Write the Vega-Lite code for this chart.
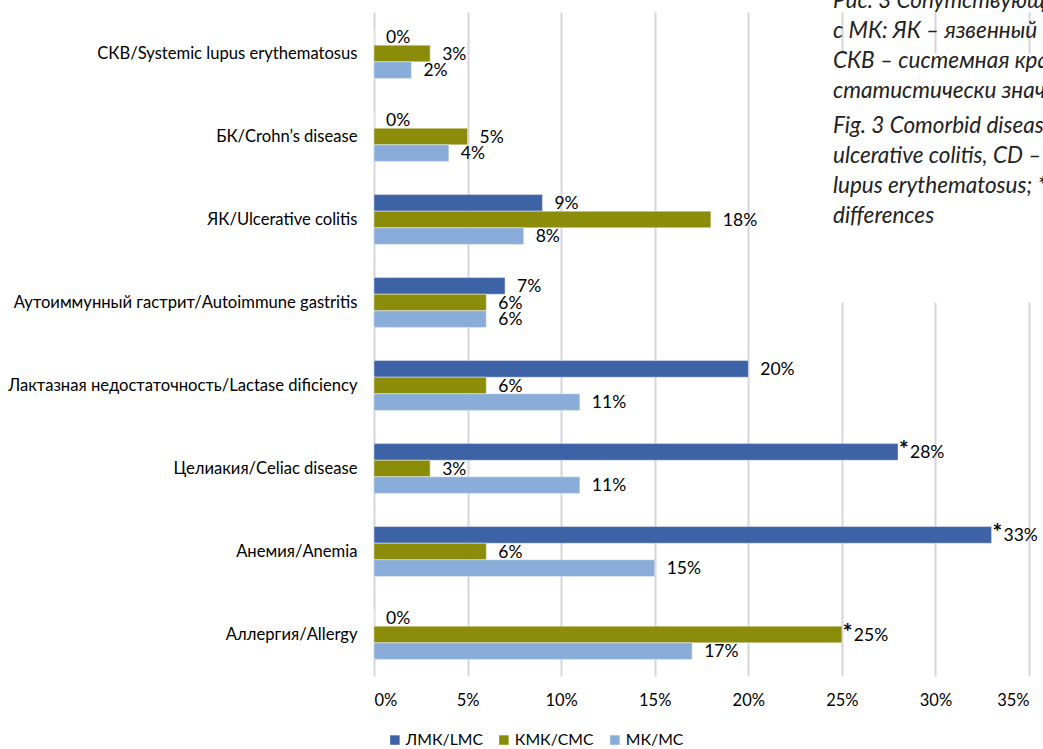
{
  "$schema": "https://vega.github.io/schema/vega-lite/v6.json",
  "width": 655,
  "height": 664,
  "autosize": {"type": "none"},
  "padding": {"left": 374, "top": 12, "right": 14, "bottom": 73},
  "background": "white",
  "config": {
    "view": {"stroke": null},
    "font": "Lato",
    "text": {"font": "Lato"}
  },
  "title": {
    "text": ["Рис. 3 Сопутствующие заболевания у пациентов", "с МК: ЯК – язвенный колит, БК – болезнь Крона,", "СКВ – системная красная волчанка; * –", "статистически значимые различия"],
    "subtitle": ["Fig. 3 Comorbid diseases in patients with MC: UC –", "ulcerative colitis, CD – Crohn's disease, SLE – systemic", "lupus erythematosus; * – statistically significant", "differences"],
    "orient": "top",
    "anchor": "end",
    "frame": "group",
    "align": "left",
    "dx": -196,
    "offset": -215,
    "font": "Lato",
    "fontSize": 22.5,
    "fontStyle": "italic",
    "fontWeight": "normal",
    "color": "#222222",
    "lineHeight": 30,
    "subtitleFont": "Lato",
    "subtitleFontSize": 22.5,
    "subtitleFontStyle": "italic",
    "subtitleColor": "#222222",
    "subtitleLineHeight": 30,
    "subtitlePadding": 12
  },
  "data": {
    "values": [
      {"disease": "СКВ/Systemic lupus erythematosus", "group": "ЛМК/LMC", "value": 0, "star": false},
      {"disease": "СКВ/Systemic lupus erythematosus", "group": "КМК/CMC", "value": 0.03, "star": false},
      {"disease": "СКВ/Systemic lupus erythematosus", "group": "МК/MC", "value": 0.02, "star": false},
      {"disease": "БК/Crohn’s disease", "group": "ЛМК/LMC", "value": 0, "star": false},
      {"disease": "БК/Crohn’s disease", "group": "КМК/CMC", "value": 0.05, "star": false},
      {"disease": "БК/Crohn’s disease", "group": "МК/MC", "value": 0.04, "star": false},
      {"disease": "ЯК/Ulcerative colitis", "group": "ЛМК/LMC", "value": 0.09, "star": false},
      {"disease": "ЯК/Ulcerative colitis", "group": "КМК/CMC", "value": 0.18, "star": false},
      {"disease": "ЯК/Ulcerative colitis", "group": "МК/MC", "value": 0.08, "star": false},
      {"disease": "Аутоиммунный гастрит/Autoimmune gastritis", "group": "ЛМК/LMC", "value": 0.07, "star": false},
      {"disease": "Аутоиммунный гастрит/Autoimmune gastritis", "group": "КМК/CMC", "value": 0.06, "star": false},
      {"disease": "Аутоиммунный гастрит/Autoimmune gastritis", "group": "МК/MC", "value": 0.06, "star": false},
      {"disease": "Лактазная недостаточность/Lactase dificiency", "group": "ЛМК/LMC", "value": 0.20, "star": false},
      {"disease": "Лактазная недостаточность/Lactase dificiency", "group": "КМК/CMC", "value": 0.06, "star": false},
      {"disease": "Лактазная недостаточность/Lactase dificiency", "group": "МК/MC", "value": 0.11, "star": false},
      {"disease": "Целиакия/Celiac disease", "group": "ЛМК/LMC", "value": 0.28, "star": true},
      {"disease": "Целиакия/Celiac disease", "group": "КМК/CMC", "value": 0.03, "star": false},
      {"disease": "Целиакия/Celiac disease", "group": "МК/MC", "value": 0.11, "star": false},
      {"disease": "Анемия/Anemia", "group": "ЛМК/LMC", "value": 0.33, "star": true},
      {"disease": "Анемия/Anemia", "group": "КМК/CMC", "value": 0.06, "star": false},
      {"disease": "Анемия/Anemia", "group": "МК/MC", "value": 0.15, "star": false},
      {"disease": "Аллергия/Allergy", "group": "ЛМК/LMC", "value": 0, "star": false},
      {"disease": "Аллергия/Allergy", "group": "КМК/CMC", "value": 0.25, "star": true},
      {"disease": "Аллергия/Allergy", "group": "МК/MC", "value": 0.17, "star": false}
    ]
  },
  "layer": [
    {
      "data": {"values": [{"box": "caption"}]},
      "mark": {"type": "rect", "color": "white"},
      "encoding": {
        "x": {"datum": 0.215, "type": "quantitative", "scale": {"domain": [0, 0.35], "nice": false, "zero": true}},
        "x2": {"datum": 0.45},
        "y": {"datum": "СКВ/Systemic lupus erythematosus", "type": "nominal"},
        "y2": {"datum": "Аутоиммунный гастрит/Autoimmune gastritis"}
      }
    },
    {
      "encoding": {
        "y": {
          "field": "disease",
          "type": "nominal",
          "scale": {
            "domain": ["СКВ/Systemic lupus erythematosus", "БК/Crohn’s disease", "ЯК/Ulcerative colitis", "Аутоиммунный гастрит/Autoimmune gastritis", "Лактазная недостаточность/Lactase dificiency", "Целиакия/Celiac disease", "Анемия/Anemia", "Аллергия/Allergy"],
            "paddingInner": 0,
            "paddingOuter": 0
          },
          "axis": {"title": null, "ticks": false, "domain": false, "grid": false, "labelPadding": 17, "labelFontSize": 16.6, "labelFont": "Lato", "labelColor": "#000000", "labelLimit": 500}
        },
        "yOffset": {
          "field": "group",
          "type": "nominal",
          "scale": {"domain": ["ЛМК/LMC", "КМК/CMC", "МК/MC"], "paddingInner": 0, "paddingOuter": 1.094}
        },
        "x": {
          "field": "value",
          "type": "quantitative",
          "scale": {"domain": [0, 0.35], "nice": false},
          "axis": {"title": null, "format": ".0%", "values": [0, 0.05, 0.1, 0.15, 0.2, 0.25, 0.3, 0.35], "ticks": false, "domain": false, "grid": true, "gridColor": "#D6D6DA", "gridWidth": 2, "labelPadding": 16, "labelFontSize": 16.5, "labelFont": "Lato", "labelColor": "#000000"}
        }
      },
      "layer": [
        {
          "mark": {"type": "bar", "stroke": "white", "strokeWidth": 0.8, "strokeOpacity": 0.5},
          "encoding": {
            "color": {
              "field": "group",
              "type": "nominal",
              "scale": {"domain": ["ЛМК/LMC", "КМК/CMC", "МК/MC"], "range": ["#3E62A6", "#8B8C0A", "#89ADD8"]},
              "legend": {"orient": "none", "legendX": 13, "legendY": 720, "direction": "horizontal", "title": null, "symbolType": "square", "symbolSize": 90, "symbolStrokeWidth": 0, "labelFontSize": 15.8, "labelFont": "Lato", "labelColor": "#000000", "columnPadding": 13, "labelOffset": 3}
            }
          }
        },
        {
          "mark": {"type": "text", "align": "left", "baseline": "middle", "dx": 12, "dy": 1, "fontSize": 17.5, "color": "#000000"},
          "encoding": {
            "text": {"field": "value", "type": "quantitative", "format": ".0%"}
          }
        },
        {
          "transform": [{"filter": "datum.star"}],
          "mark": {"type": "text", "text": "*", "align": "left", "baseline": "middle", "dx": 1, "dy": -2, "fontSize": 23, "fontWeight": "bold", "color": "#000000"}
        }
      ]
    }
  ]
}
